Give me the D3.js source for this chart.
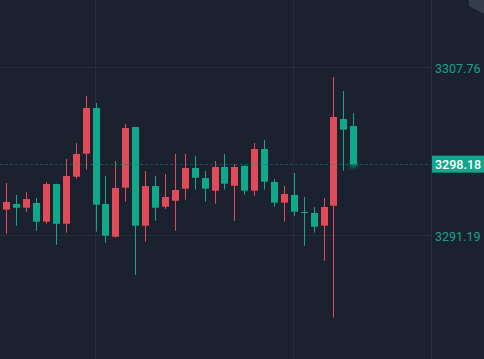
<!DOCTYPE html>
<html>
<head>
<meta charset="utf-8">
<script src="https://cdn.jsdelivr.net/npm/d3@7"></script>
<style>
html,body{margin:0;padding:0;background:#1b212e;overflow:hidden;}
svg{display:block;}
</style>
</head>
<body>
<script>
const opens  = [3293.69,3294.25,3293.88,3294.35,3292.50,3296.22,3292.30,3296.94,3299.21,3303.72,3294.25,3291.02,3295.86,3301.84,3292.11,3296.02,3293.98,3294.57,3295.76,3297.80,3296.81,3295.56,3297.90,3296.05,3298.00,3295.56,3299.67,3296.42,3294.38,3295.14,3293.46,3293.36,3292.11,3294.08,3302.63,3301.94];
const highs  = [3296.32,3295.14,3295.43,3294.84,3296.42,3296.25,3298.69,3300.26,3304.90,3304.21,3297.01,3298.49,3302.14,3301.86,3297.50,3297.01,3297.21,3299.18,3299.18,3298.98,3297.50,3298.49,3299.18,3298.19,3298.09,3300.26,3300.56,3296.71,3296.02,3297.31,3294.94,3293.95,3294.84,3306.77,3305.39,3303.22];
const lows   = [3291.32,3292.11,3293.49,3291.61,3292.30,3290.23,3291.42,3296.74,3297.63,3291.52,3290.43,3290.92,3294.47,3287.27,3290.53,3292.60,3293.78,3291.61,3294.67,3295.66,3294.47,3294.28,3295.66,3292.60,3295.17,3295.07,3295.66,3293.98,3292.50,3293.09,3290.13,3291.42,3288.65,3283.03,3297.53,3298.18];
const closes = [3294.45,3293.88,3294.74,3292.50,3296.22,3292.30,3297.01,3299.18,3303.72,3294.18,3291.12,3295.83,3301.74,3292.11,3296.02,3293.88,3294.94,3295.63,3297.80,3296.84,3295.76,3297.90,3296.25,3297.90,3295.56,3299.67,3296.45,3294.38,3295.23,3293.49,3293.39,3292.01,3293.95,3302.83,3301.58,3298.18];
const tickValues = [3291.19, 3307.76];
const lastPrice = 3298.18;

const W = 484, H = 359, axisX = 431;
const UP = "#e04b58", DOWN = "#0fa88b";

const svg = d3.select("body").append("svg").attr("width", W).attr("height", H);
svg.append("rect").attr("width", W).attr("height", H).attr("fill", "#1b212e");

const y = d3.scaleLinear().domain([3291.19, 3307.76]).range([235, 67]);
const x = d3.scaleLinear().domain([0, opens.length - 1]).range([6.3, 353.3]);
const idx = d3.range(opens.length);

// vertical grid
const gridG = svg.append("g");
[9, 29].forEach(i => {
  const gx = Math.round(x(i)) + 0.5 - 1;
  gridG.append("line").attr("x1", gx).attr("x2", gx).attr("y1", 0).attr("y2", H)
    .attr("stroke", "#252c3a").attr("stroke-width", 1);
});
// horizontal grid
gridG.selectAll("line.h").data(tickValues).join("line").attr("class", "h")
  .attr("x1", 0).attr("x2", axisX)
  .attr("y1", d => Math.round(y(d)) + 0.5).attr("y2", d => Math.round(y(d)) + 0.5)
  .attr("stroke", "#262d3b").attr("stroke-width", 1);

// axis separator
svg.append("line").attr("x1", axisX + 0.5).attr("x2", axisX + 0.5).attr("y1", 0).attr("y2", H)
  .attr("stroke", "#2a3140").attr("stroke-width", 1);

// candles
const cg = svg.append("g");
const col = i => closes[i] >= opens[i] ? UP : DOWN;
cg.selectAll("line.w").data(idx).join("line").attr("class", "w")
  .attr("x1", i => Math.round(x(i)) + 0.5).attr("x2", i => Math.round(x(i)) + 0.5)
  .attr("y1", i => y(highs[i])).attr("y2", i => y(lows[i]))
  .attr("stroke", col).attr("stroke-width", 1);
cg.selectAll("rect.b").data(idx).join("rect").attr("class", "b")
  .attr("x", i => Math.round(x(i)) - 3)
  .attr("width", 7)
  .attr("y", i => y(Math.max(opens[i], closes[i])))
  .attr("height", i => Math.max(1, Math.abs(y(opens[i]) - y(closes[i]))))
  .attr("fill", col);

// last price dashed line (drawn over candles)
svg.append("line").attr("x1", 0).attr("x2", axisX).attr("y1", Math.round(y(lastPrice)) + 0.5).attr("y2", Math.round(y(lastPrice)) + 0.5)
  .attr("stroke", "#13807a").attr("stroke-opacity", 0.55).attr("stroke-width", 1).attr("stroke-dasharray", "3,2");

// glow at last price
const defs = svg.append("defs");
const f = defs.append("filter").attr("id", "glow").attr("x", "-100%").attr("y", "-100%").attr("width", "300%").attr("height", "300%");
f.append("feGaussianBlur").attr("stdDeviation", 2);
const li = opens.length - 1;
svg.append("circle").attr("cx", Math.round(x(li)) + 0.5).attr("cy", y(lastPrice)).attr("r", 3.5)
  .attr("fill", DOWN).attr("opacity", 0.8).attr("filter", "url(#glow)");

// right axis
const axis = d3.axisRight(y).tickValues(tickValues).tickSize(0).tickPadding(4).tickFormat(d3.format(".2f"));
const ag = svg.append("g").attr("transform", `translate(${axisX},0)`).call(axis);
ag.select(".domain").remove();
ag.selectAll("text").attr("fill", "#17a288").attr("font-family", "Roboto, 'Open Sans', sans-serif").attr("font-size", 12.5).attr("dy", "0.4em");

// last price label
const ly = y(lastPrice);
svg.append("rect").attr("x", axisX + 1).attr("y", ly - 8.5).attr("width", W - axisX - 1).attr("height", 17).attr("fill", "#0fa88b");
svg.append("text").attr("x", axisX + 4).attr("y", ly).attr("dy", "0.36em")
  .attr("fill", "#ffffff").attr("font-family", "Roboto, 'Open Sans', sans-serif").attr("font-size", 12.5).attr("font-weight", 500)
  .text(d3.format(".2f")(lastPrice));

// corner decoration
svg.append("polygon").attr("points", "469,0 484,0 484,14 469,6").attr("fill", "#353c4b");
</script>
</body>
</html>
